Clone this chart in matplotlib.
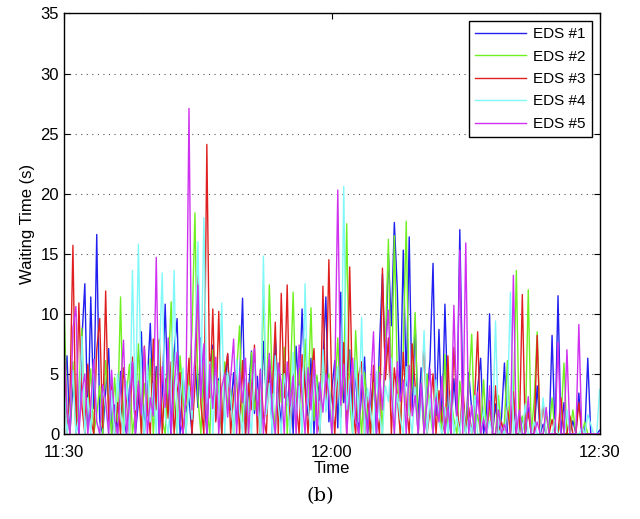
import numpy as np
import matplotlib
matplotlib.use("Agg")
import matplotlib.pyplot as plt

# waiting time samples every 20 s from 11:30 to 12:30 (minutes since 11:30)
minutes = np.arange(181) / 3.0

eds1 = [3.2, 6.5, 0.0, 4.1, 2.0, 0.0, 7.8, 12.5, 0.5, 11.4, 2.1, 16.6, 1.0, 0.0, 3.5,
        7.1, 0.0, 2.4, 0.0, 5.2, 1.3, 0.0, 3.8, 6.0, 0.0, 2.7, 8.5, 0.0, 4.3, 9.2,
        1.5, 5.6, 0.0, 3.2, 10.8, 2.5, 0.0, 6.8, 9.6, 0.0, 4.9, 1.8, 3.0, 0.0, 6.2,
        2.2, 8.0, 3.5, 0.0, 5.7, 7.4, 1.2, 4.6, 0.0, 3.9, 6.6, 2.0, 5.1, 0.8, 4.4,
        11.3, 0.0, 3.6, 6.9, 1.7, 4.8, 0.0, 7.7, 2.9, 5.5, 0.0, 8.1, 3.3, 0.9, 6.0,
        2.4, 5.0, 0.0, 7.3, 3.1, 10.4, 4.2, 1.5, 6.3, 0.0, 4.7, 2.8, 5.9, 11.4, 1.0,
        3.7, 6.1, 0.5, 11.8, 2.6, 4.9, 7.0, 1.1, 5.3, 0.0, 3.4, 6.4, 0.0, 2.3, 4.5,
        0.0, 7.3, 13.3, 5.0, 15.0, 9.0, 17.6, 12.0, 3.0, 15.3, 4.0, 16.4, 2.0, 9.3, 1.0,
        5.5, 0.0, 3.0, 6.2, 14.2, 1.5, 8.7, 0.5, 10.8, 2.4, 0.0, 4.6, 1.2, 17.0, 3.3,
        0.0, 5.1, 2.0, 0.0, 3.8, 6.3, 0.0, 1.9, 10.0, 0.0, 2.5, 0.0, 1.3, 5.9, 0.0,
        0.0, 3.1, 0.0, 0.0, 1.4, 0.0, 2.2, 0.0, 0.0, 4.0, 0.0, 0.8, 0.0, 0.0, 8.2,
        0.0, 11.5, 0.0, 2.6, 0.0, 0.0, 1.1, 0.0, 3.4, 0.0, 0.0, 6.3, 0.0, 0.0, 0.0,
        0.3]
eds2 = [11.0, 2.0, 0.0, 6.0, 0.0, 3.5, 8.8, 0.0, 2.2, 5.4, 0.0, 1.6, 4.0, 0.0, 6.1,
        2.5, 0.0, 4.7, 1.0, 11.4, 0.0, 3.3, 5.8, 0.0, 2.0, 7.5, 0.0, 4.2, 1.5, 6.3,
        0.0, 3.9, 7.9, 1.2, 0.0, 5.0, 11.0, 2.7, 0.0, 6.5, 3.1, 0.0, 4.8, 8.4, 18.4,
        3.0, 0.0, 5.9, 2.1, 0.0, 7.0, 1.8, 4.4, 0.0, 6.0, 2.3, 3.7, 0.0, 5.2, 9.0,
        1.0, 4.5, 0.0, 6.8, 2.0, 3.6, 0.0, 12.4, 1.5, 12.4, 3.9, 0.0, 5.7, 2.6, 7.2,
        0.0, 4.0, 11.8, 2.2, 5.5, 0.0, 7.9, 3.0, 10.5, 1.1, 4.9, 0.0, 6.2, 2.8, 5.0,
        0.0, 3.4, 8.0, 1.6, 4.7, 17.5, 2.5, 0.0, 8.6, 3.2, 0.0, 5.1, 1.9, 0.0, 4.3,
        2.0, 5.6, 0.0, 7.4, 16.2, 3.0, 16.5, 4.8, 0.0, 6.9, 17.7, 1.5, 4.0, 10.1, 0.0,
        3.6, 0.0, 5.0, 1.8, 0.0, 4.1, 2.5, 0.0, 6.6, 0.0, 3.0, 1.2, 0.0, 4.4, 2.0,
        0.0, 3.7, 8.3, 0.0, 1.6, 0.0, 4.5, 0.0, 2.1, 0.0, 0.0, 3.2, 0.0, 1.0, 6.1,
        0.0, 2.4, 13.6, 0.0, 1.5, 0.0, 12.0, 0.0, 2.8, 8.5, 0.0, 0.0, 1.6, 0.0, 3.0,
        0.0, 0.0, 1.2, 5.9, 0.0, 0.0, 2.0, 0.0, 0.0, 0.0, 1.0, 0.0, 0.0, 0.0, 0.0,
        0.0]
eds3 = [6.8, 0.0, 3.1, 15.7, 0.0, 10.9, 2.4, 0.0, 5.8, 1.2, 0.0, 7.0, 9.6, 0.5, 11.9,
        1.0, 4.3, 0.0, 2.6, 0.0, 5.5, 3.0, 0.0, 6.4, 1.4, 4.1, 0.0, 7.3, 2.2, 0.0,
        7.9, 2.0, 7.8, 0.0, 4.6, 1.3, 6.0, 0.0, 3.5, 5.1, 0.0, 2.7, 6.3, 0.0, 4.0,
        13.2, 2.5, 0.0, 24.1, 3.0, 10.4, 1.0, 10.2, 0.0, 4.8, 6.7, 0.0, 3.2, 5.4, 0.0,
        6.1, 0.0, 4.2, 2.0, 7.4, 0.0, 5.3, 1.5, 0.0, 6.2, 3.4, 9.3, 0.0, 11.7, 3.0,
        12.4, 0.0, 5.0, 2.7, 0.0, 6.6, 3.8, 0.0, 4.4, 7.1, 1.0, 0.0, 12.3, 2.0, 14.5,
        3.5, 0.0, 5.2, 1.4, 7.6, 0.0, 13.9, 2.3, 0.0, 4.9, 6.0, 0.0, 3.1, 0.0, 5.7,
        2.0, 0.0, 13.8, 4.5, 8.0, 0.0, 5.5, 3.1, 0.0, 6.8, 2.4, 0.0, 7.5, 4.0, 0.0,
        3.3, 7.6, 0.0, 2.0, 5.0, 0.0, 3.6, 1.2, 0.0, 6.5, 0.0, 7.2, 2.5, 0.0, 4.1,
        0.0, 2.2, 0.0, 3.0, 8.5, 0.0, 1.5, 0.0, 2.8, 0.0, 4.0, 0.0, 1.0, 0.0, 2.3,
        0.0, 3.5, 0.0, 0.0, 11.6, 0.0, 1.8, 0.0, 0.0, 8.2, 0.0, 2.5, 0.0, 0.0, 1.2,
        0.0, 0.0, 3.0, 0.0, 0.0, 1.5, 0.0, 0.0, 2.6, 0.0, 0.0, 0.0, 0.0, 0.0, 0.0,
        0.0]
eds4 = [4.5, 0.0, 2.0, 5.3, 0.0, 1.4, 8.1, 0.0, 3.0, 0.0, 6.2, 1.0, 0.0, 4.0, 2.2,
        0.0, 3.6, 0.0, 5.0, 1.8, 0.0, 4.4, 0.0, 13.6, 2.0, 15.8, 3.2, 0.0, 5.8, 1.0,
        4.2, 0.0, 6.0, 13.4, 1.5, 0.0, 3.7, 13.6, 0.0, 2.8, 5.5, 0.0, 4.0, 1.2, 6.6,
        16.0, 4.0, 18.0, 2.5, 6.0, 0.0, 4.8, 2.0, 10.9, 0.0, 5.1, 3.0, 0.0, 6.2, 1.9,
        0.0, 4.6, 2.2, 0.0, 5.9, 3.0, 0.0, 14.8, 1.6, 4.2, 0.0, 6.5, 2.4, 0.0, 5.0,
        3.1, 0.0, 6.8, 1.3, 4.0, 0.0, 12.5, 2.6, 0.0, 5.4, 3.5, 0.0, 7.0, 1.8, 4.6,
        0.0, 3.0, 5.6, 0.0, 20.6, 2.0, 4.5, 0.0, 6.1, 1.0, 9.7, 0.0, 3.8, 2.0, 0.0,
        5.2, 1.5, 0.0, 4.0, 2.7, 6.3, 0.0, 3.3, 1.2, 0.0, 5.6, 2.0, 0.0, 3.9, 0.0,
        2.4, 8.6, 0.0, 3.0, 0.0, 4.5, 1.0, 0.0, 2.2, 0.0, 3.6, 0.0, 1.5, 0.0, 2.8,
        0.0, 1.4, 0.0, 3.2, 0.0, 0.0, 2.0, 0.0, 1.1, 0.0, 9.4, 0.0, 0.5, 0.0, 2.4,
        11.8, 0.0, 1.6, 0.0, 0.0, 2.5, 0.0, 0.0, 1.0, 0.0, 0.0, 3.0, 0.0, 0.0, 0.0,
        1.2, 0.0, 0.0, 0.0, 2.0, 0.0, 0.0, 0.0, 0.0, 0.5, 0.0, 1.6, 0.8, 0.0, 0.0,
        3.7]
eds5 = [7.5, 2.0, 0.0, 8.8, 10.6, 0.0, 3.5, 5.0, 0.0, 2.4, 6.2, 1.0, 0.0, 4.1, 2.8,
        0.0, 5.3, 1.2, 0.0, 3.8, 7.8, 0.0, 2.5, 6.0, 0.0, 4.4, 1.6, 7.2, 0.0, 3.0,
        1.5, 14.7, 0.0, 5.6, 2.2, 8.0, 0.0, 4.1, 6.8, 1.0, 0.0, 3.4, 27.1, 2.0, 6.5,
        12.4, 3.0, 7.5, 0.0, 5.8, 2.1, 6.4, 0.0, 3.9, 5.0, 1.4, 4.6, 7.9, 0.0, 5.2,
        2.6, 6.3, 0.0, 4.0, 7.1, 1.5, 5.4, 0.0, 3.3, 6.7, 2.0, 0.0, 5.9, 4.2, 0.0,
        6.0, 2.3, 4.8, 0.0, 7.4, 3.1, 0.0, 5.5, 2.0, 6.1, 0.0, 4.3, 1.8, 5.0, 3.2,
        0.0, 4.7, 20.3, 2.4, 5.8, 0.0, 3.6, 6.3, 1.2, 0.0, 4.9, 2.5, 0.0, 3.8, 8.5,
        0.0, 5.1, 2.0, 7.0, 10.3, 3.4, 0.0, 6.0, 2.7, 4.5, 0.0, 5.7, 1.5, 3.2, 0.0,
        4.2, 0.0, 2.6, 5.4, 0.0, 3.0, 1.0, 4.8, 0.0, 2.2, 0.0, 10.7, 1.5, 15.3, 0.0,
        15.9, 0.0, 2.4, 0.0, 3.5, 0.0, 1.2, 0.0, 4.0, 0.0, 0.0, 2.0, 0.0, 0.8, 0.0,
        0.0, 13.2, 0.0, 2.0, 0.0, 0.0, 3.1, 0.0, 0.0, 1.0, 0.0, 0.0, 2.2, 0.0, 0.0,
        0.0, 7.6, 0.0, 0.0, 7.0, 0.0, 0.0, 0.0, 9.1, 0.0, 0.0, 0.0, 0.0, 0.0, 0.0,
        0.0]

labels = ["EDS #1", "EDS #2", "EDS #3", "EDS #4", "EDS #5"]
colors = ["#2020f0", "#70f020", "#e02020", "#80f8f8", "#d030f0"]

xtick_pos = [0, 30, 60]
xtick_lab = ["11:30", "12:00", "12:30"]

plt.rcParams['font.family'] = ['Liberation Sans', 'DejaVu Sans']

fig = plt.figure(figsize=(6.4, 5.19), dpi=100)
ax = fig.add_axes([0.1, 0.164, 0.837, 0.81])

for series, lab, col in zip([eds1, eds2, eds3, eds4, eds5], labels, colors):
    ax.plot(minutes, series, color=col, lw=1.0, label=lab)

ax.set_xlim(0, 60)
ax.set_ylim(0, 35)
ax.set_xticks(xtick_pos)
ax.set_xticklabels(xtick_lab)
ax.set_yticks(np.arange(0, 36, 5))
ax.tick_params(direction='in', top=True, right=True, labelsize=12, length=4)
ax.tick_params(axis='x', pad=8)
ax.yaxis.grid(True, linestyle=(0, (1, 4)), color='#555555', lw=0.8)
for s in ax.spines.values():
    s.set_linewidth(1.0)

ax.set_xlabel("Time", fontsize=12, labelpad=1)
ax.set_ylabel("Waiting Time (s)", fontsize=12)

leg = ax.legend(loc='upper right', fontsize=11, fancybox=False, framealpha=1,
                edgecolor='black', handlelength=3.3, handletextpad=0.5,
                borderaxespad=0.5, labelspacing=0.55)
leg.get_frame().set_linewidth(1.0)

fig.text(0.5, 0.045, "(b)", ha='center', va='center', fontsize=14,
         family=['DejaVu Serif'])

fig.savefig("out.png", dpi=100)
